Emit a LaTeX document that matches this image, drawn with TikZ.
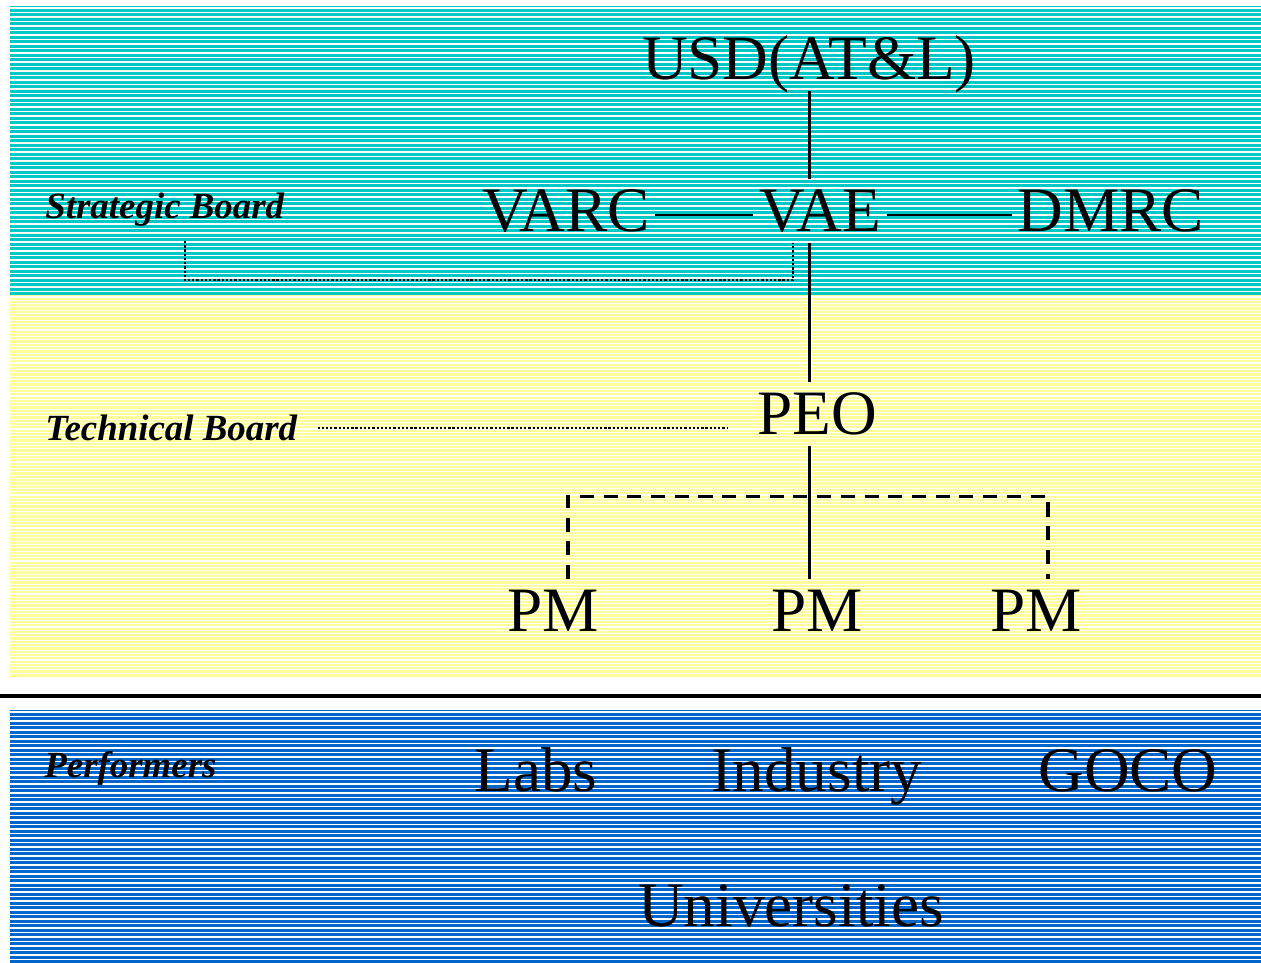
\documentclass[tikz,border=0pt]{standalone}
\usepackage{fontspec}
\setmainfont{Liberation Serif}
\definecolor{boardteal}{RGB}{0,200,198}
\definecolor{boardyellow}{RGB}{255,255,153}
\definecolor{perfblue}{RGB}{0,102,204}
\tikzset{
  stripe/.style={draw=white, line width=0.6pt},
  dashlink/.style={draw=black, line width=1.8pt, dash pattern=on 8pt off 5.5pt},
  dotlink/.style={draw=black, line width=1.4pt, dash pattern=on 1.3pt off 1.1pt}
}
\begin{document}
\begin{tikzpicture}[x=0.02cm, y=-0.02cm]
      \useasboundingbox (0,0) rectangle (1261,963);
      % the three bands
      \fill[boardteal] (10,6) rectangle (1261,295);
      \fill[boardyellow] (10,295) rectangle (1261,677);
      \fill[perfblue] (10,710) rectangle (1261,963);
      \foreach \y in {8,12.5,...,294} \draw[stripe] (10,\y) -- (1261,\y);
      \foreach \y in {297,300.3,...,676} \draw[stripe] (10,\y) -- (1261,\y);
      \foreach \y in {712,716.5,...,962} \draw[stripe] (10,\y) -- (1261,\y);
      \draw[line width=2.8pt] (0,696) -- (1261,696);
      \begin{scope}[every node/.style={font=\fontsize{36}{40}\selectfont, text height=23.8pt, text depth=0pt, inner xsep=3pt, inner ysep=6pt}]
        \node (usd) at (809,59) {USD(AT\&L)};
        \node (varc) at (566,211) {VARC};
        \node (vae) at (820,211) {VAE};
        \node (dmrc) at (1111,211) {DMRC};
        \node (peo) at (817,414) {PEO};
        \node (pma) at (553,611) {PM};
        \node (pmb) at (817,611) {PM};
        \node (pmc) at (1036,611) {PM};
        \node (labs) at (536,771) {Labs};
        \node (industry) at (817,771) {Industry};
        \node (goco) at (1128,771) {GOCO};
        \node (univ) at (791,906) {Universities};
      \end{scope}
      \begin{scope}[every node/.style={font=\fontsize{21}{24}\selectfont\bfseries\itshape, anchor=west, inner sep=0pt, text height=13.9pt, text depth=0pt}]
        \node (sb) at (45,206) {Strategic Board};
        \node (tb) at (45,428) {Technical Board};
        \node (perf) at (44,765) {Performers};
      \end{scope}
      \begin{scope}[every edge/.style={draw=black, line width=1.7pt}]
        \path (usd.south) edge (usd.south |- vae.north);
        \path ([yshift=-0.08cm]varc.east) edge ([yshift=-0.08cm]vae.west);
        \path ([yshift=-0.08cm]vae.east) edge ([yshift=-0.08cm]dmrc.west);
        \path (vae.south -| usd) edge (peo.north -| usd);
        \path (peo.south -| usd) edge (pmb.north -| usd);
      \end{scope}
      \draw[dashlink] ([xshift=0.3cm]pma.north) -- ++(0,-83) -| ([xshift=0.24cm]pmc.north);
      \draw[dotlink] ([xshift=0.4cm,yshift=-0.45cm]sb.south) -- ++(0,39) -| ([xshift=-0.54cm]vae.south);
      \draw[dotlink] ([xshift=0.4cm]tb.east) -- ([xshift=-0.48cm]tb.east -| peo.west);
    \end{tikzpicture}
\end{document}
